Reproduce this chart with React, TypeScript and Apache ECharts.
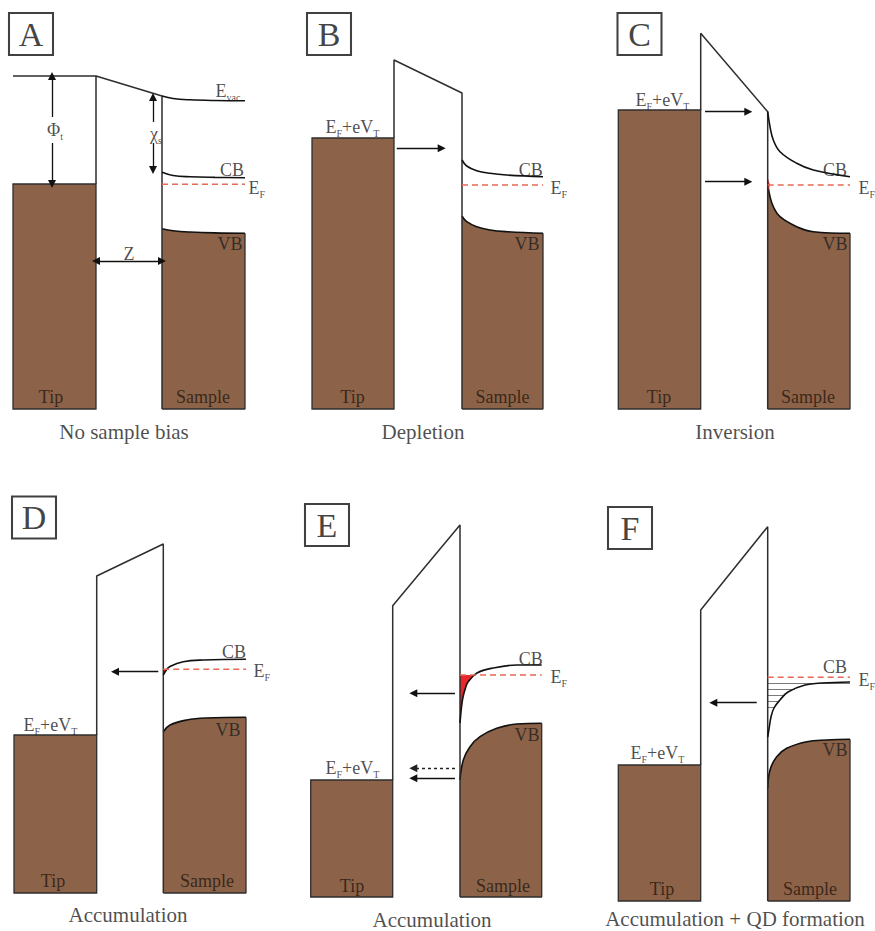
import React, { useEffect, useRef } from "react";
import * as echarts from "echarts";

const FONT = "Liberation Serif, DejaVu Serif, serif";
const BROWN = "#8c6248";
const LINE = "#2e2e2e";
const TXT = "#1e1e1e";
const EF_COLOR = "#e66a55";
const RED = "#e8262b";

// Panel layout (page pixels) and the pixel row of each panel's energy zero (tip/sample base)
const PANEL_X = [0, 290, 580, 0, 290, 580];
const PANEL_Y = [0, 0, 0, 460, 460, 460];
const PANEL_W = [290, 290, 295, 290, 290, 295];
const PANEL_H = [450, 450, 450, 471, 471, 471];
const BASE = [409, 409, 409, 893, 897, 901];

const LETTERS = ["A", "B", "C", "D", "E", "F"];
const CAPTIONS = [
  "No sample bias",
  "Depletion",
  "Inversion",
  "Accumulation",
  "Accumulation",
  "Accumulation + QD formation",
];

// Tip: [left, right, Fermi level (top of filled states)]
const TIP = [
  [13, 96, 225],
  [22, 104, 271],
  [38.3, 120.7, 299],
  [14, 96.7, 158],
  [20.7, 102.7, 117],
  [38.3, 120.7, 136],
];

// Vacuum barrier outline
const BARRIER = [
  [[13, 333], [96, 333], [96, 225], [96, 333], [162, 313], [162, 0]],
  [[104, 271], [104, 349], [172, 316], [172, 0]],
  [[120.7, 299], [120.7, 375.7], [187.7, 297.3], [187.7, 0]],
  [[96.7, 158], [96.7, 317], [163.3, 349], [163.3, 0]],
  [[102.7, 117], [102.7, 291.3], [170, 372], [170, 0]],
  [[120.7, 136], [120.7, 291], [187.7, 374.3], [187.7, 0]],
];

// Sample vacuum level (panel A)
const EVAC_A = [[162, 313], [173, 310.5], [190, 309.2], [215, 308.5], [245, 308.2]];

// Conduction band edge
const CB = [
  [[162, 236.7], [173, 233.5], [190, 232.2], [215, 231.6], [245, 231.3]],
  [[172, 249], [176.7, 243], [186.7, 238.3], [200, 235.7], [216.7, 234], [253, 232.3]],
  [[187.7, 297.3], [190, 282.3], [193.3, 269], [200, 257.3], [216.7, 245.7], [233.3, 239], [270, 232.3]],
  [[163.3, 218], [166, 222.5], [170, 226.5], [183.3, 231.3], [203.3, 233], [246, 233.7]],
  [[170, 174], [171.5, 190], [173, 200], [175.5, 209], [178, 215], [187, 224], [203, 229], [227, 232], [251.7, 232]],
  [[187.7, 164], [189, 172], [191, 184], [194, 193], [200, 201], [208, 209], [225, 216], [242, 218], [270, 219]],
];

// Valence band edge (top of the filled sample)
const VB = [
  [[162, 180.3], [173, 178.3], [190, 177], [215, 176.1], [245, 175.7]],
  [[172, 193], [176.7, 187.3], [186.7, 182.3], [200, 179], [216.7, 177.3], [253, 175.7]],
  [[187.7, 225.7], [190, 212.3], [193.3, 202.3], [200, 192.3], [216.7, 182.3], [233.3, 177.3], [270, 175.7]],
  [[163.3, 161.3], [170, 168], [186.7, 173], [206.7, 175], [246, 175.7]],
  [[170, 117], [173.3, 137], [180, 150.3], [190, 160.3], [206.7, 168.7], [226.7, 173], [251.7, 173.7]],
  [[187.7, 112.7], [190, 131], [196.7, 144.3], [206.7, 152.7], [226.7, 159.3], [246.7, 161], [270, 161.7]],
];

// Sample Fermi level: [x start, x end, level]
const EF = [
  [162, 245, 224.7],
  [172, 253, 224],
  [187.7, 270, 224],
  [163.3, 246, 223.7],
  [170, 251.7, 222],
  [187.7, 270, 223.7],
];

// Occupied (red) regions
const CHARGE = [
  [],
  [],
  [[187.7, 231], [190, 224], [187.7, 217]],
  [[163.3, 223.7], [168.5, 223.7], [166, 222.5], [164.5, 220.5], [163.3, 218]],
  [[170, 222], [184.8, 222], [178, 215], [175.5, 209], [173, 200], [171.5, 190], [170, 180]],
  [],
];

// Quantized levels (panel F)
const QD_LEVELS = [
  [[187.7, 218], [270, 218]],
  [[187.7, 212], [215, 212]],
  [[187.7, 206], [205, 206]],
  [[187.7, 200], [199, 200]],
  [[187.7, 194], [194.5, 194]],
];

// Tunnelling arrows: [from, to, dashed]
const ARROWS = [
  [],
  [[[106.7, 260.7], [151.7, 260.7], 0]],
  [[[125, 297.3], [168.3, 297.3], 0], [[125, 227.3], [168.3, 227.3], 0]],
  [[[158.3, 221.3], [115, 221.3], 0]],
  [[[165, 203.7], [123.3, 203.7], 0], [[165, 128.7], [123.3, 128.7], 1], [[165, 118.7], [123.3, 118.7], 0]],
  [[[176.7, 198.3], [133.3, 198.3], 0]],
];

// Dimension arrows in panel A
const DIM_ARROWS_A = [
  [[52, 292], [52, 333]],
  [[52, 266], [52, 225]],
  [[153, 287], [153, 312]],
  [[153, 266], [153, 239]],
];
const Z_ARROW_A = [[96, 148], [162, 148]];

// Label anchor points per panel
const BOX_POS = [[31, 375], [39, 375], [59.5, 375], [34, 375.5], [37, 372], [50, 373]];
const CAPTION_POS = [[124, -23], [133, -23], [155, -23], [128, -22], [142, -23], [155, -18]];
const TIP_LABEL_POS = [[51, 12], [62.5, 12], [79, 12], [53, 12], [62, 11], [82, 12]];
const SAMPLE_LABEL_POS = [[203, 12], [212.5, 12], [228, 12], [207, 12], [213, 11], [230, 12]];
const CB_LABEL_POS = [[232, 239], [240.7, 239], [255, 239], [234, 241], [240.7, 238], [255, 234]];
const VB_LABEL_POS = [[230, 165], [237, 165], [255, 165], [228, 163], [237, 162], [255, 151]];
const EF_LABEL_POS = [[248, 221], [260, 221], [278, 221], [253, 222], [260, 220], [278, 221]];
const BIAS_LABEL_POS = [null, [35, 282], [55, 309], [23, 168], [35, 129], [50, 148]];

const RICH = {
  n: { fontFamily: FONT, fontSize: 18, lineHeight: 22, color: TXT },
  u: { fontFamily: FONT, fontSize: 10, lineHeight: 10, color: TXT, verticalAlign: "bottom" },
  v: { fontFamily: FONT, fontSize: 10, lineHeight: 10, color: TXT, verticalAlign: "bottom" },
  t: { fontFamily: FONT, fontSize: 18, lineHeight: 22, color: "#24170f" },
  c: { fontFamily: FONT, fontSize: 21, lineHeight: 22, color: TXT },
};

function lab(pos: number[], text: string, position: string) {
  return {
    value: pos,
    label: {
      show: true,
      position,
      distance: 0,
      formatter: () => text,
      rich: RICH,
    },
  };
}

function buildOption() {
  const grid: any[] = [];
  const xAxis: any[] = [];
  const yAxis: any[] = [];
  const series: any[] = [];

  for (let i = 0; i < 6; i++) {
    grid.push({ left: PANEL_X[i], top: PANEL_Y[i], width: PANEL_W[i], height: PANEL_H[i] });
    xAxis.push({ type: "value", gridIndex: i, min: 0, max: PANEL_W[i], show: false });
    yAxis.push({
      type: "value",
      gridIndex: i,
      min: BASE[i] - (PANEL_Y[i] + PANEL_H[i]),
      max: BASE[i] - PANEL_Y[i],
      show: false,
    });
    const ax = { xAxisIndex: i, yAxisIndex: i };

    // Tip block
    series.push({
      type: "custom",
      ...ax,
      z: 1,
      silent: true,
      data: [TIP[i]],
      renderItem: (_p: any, api: any) => {
        const a = api.coord([api.value(0), api.value(2)]);
        const b = api.coord([api.value(1), 0]);
        return {
          type: "rect",
          shape: { x: a[0], y: a[1], width: b[0] - a[0], height: b[1] - a[1] },
          style: { fill: BROWN, stroke: LINE, lineWidth: 1.3 },
        };
      },
    });

    // Sample filled valence band
    const vb = VB[i];
    series.push({
      type: "line",
      ...ax,
      z: 2,
      silent: true,
      data: vb,
      smooth: 0.4,
      symbol: "none",
      lineStyle: { color: "#111", width: 1.6 },
      areaStyle: { color: BROWN, opacity: 1, origin: 0 },
    });

    // Sample outline (right and bottom)
    const wall = vb[0][0];
    const right = vb[vb.length - 1][0];
    series.push({
      type: "line",
      ...ax,
      z: 3,
      silent: true,
      symbol: "none",
      data: [[right, vb[vb.length - 1][1]], [right, 0], [wall, 0]],
      lineStyle: { color: LINE, width: 1.3 },
    });

    // Occupied charge region
    if (CHARGE[i].length) {
      const pts = CHARGE[i];
      series.push({
        type: "custom",
        ...ax,
        z: 3,
        silent: true,
        data: [[0, 0]],
        renderItem: (_p: any, api: any) => ({
          type: "polygon",
          shape: { points: pts.map((p) => api.coord(p)) },
          style: { fill: RED },
        }),
      });
    }

    // Barrier
    series.push({
      type: "line",
      ...ax,
      z: 4,
      silent: true,
      symbol: "none",
      data: BARRIER[i],
      lineStyle: { color: LINE, width: 1.5 },
    });

    // Conduction band
    series.push({
      type: "line",
      ...ax,
      z: 4,
      silent: true,
      symbol: "none",
      smooth: 0.4,
      data: CB[i],
      lineStyle: { color: "#111", width: 1.6 },
    });

    // Sample Fermi level
    series.push({
      type: "line",
      ...ax,
      z: 4,
      silent: true,
      symbol: "none",
      data: [[EF[i][0], EF[i][2]], [EF[i][1], EF[i][2]]],
      lineStyle: { color: EF_COLOR, width: 1.5, type: [6, 4] },
    });

    if (i === 0) {
      series.push({
        type: "line",
        ...ax,
        z: 4,
        silent: true,
        symbol: "none",
        smooth: 0.4,
        data: EVAC_A,
        lineStyle: { color: "#111", width: 1.5 },
      });
      series.push({
        type: "lines",
        coordinateSystem: "cartesian2d",
        ...ax,
        z: 5,
        silent: true,
        symbol: ["none", "triangle"],
        symbolSize: 8,
        lineStyle: { color: "#111", width: 1.3, opacity: 1 },
        data: DIM_ARROWS_A.map((c) => ({ coords: c })),
      });
      series.push({
        type: "lines",
        coordinateSystem: "cartesian2d",
        ...ax,
        z: 5,
        silent: true,
        symbol: ["triangle", "triangle"],
        symbolSize: 8,
        lineStyle: { color: "#111", width: 1.3, opacity: 1 },
        data: [{ coords: Z_ARROW_A }],
      });
    }

    if (i === 5) {
      series.push({
        type: "lines",
        coordinateSystem: "cartesian2d",
        ...ax,
        z: 3,
        silent: true,
        symbol: ["none", "none"],
        lineStyle: { color: "#7a7a7a", width: 1, opacity: 1 },
        data: QD_LEVELS.map((c) => ({ coords: c })),
      });
    }

    if (ARROWS[i].length) {
      series.push({
        type: "lines",
        coordinateSystem: "cartesian2d",
        ...ax,
        z: 5,
        silent: true,
        symbol: ["none", "triangle"],
        symbolSize: 8,
        lineStyle: { color: "#111", width: 1.4, opacity: 1 },
        data: ARROWS[i].map((a: any) => ({
          coords: [a[0], a[1]],
          lineStyle: a[2] ? { type: [3, 3], color: "#222" } : undefined,
        })),
      });
    }

    // Panel letter box
    series.push({
      type: "scatter",
      ...ax,
      z: 6,
      silent: true,
      symbol: "rect",
      symbolSize: [44, 42],
      itemStyle: { color: "#fff", borderColor: "#111", borderWidth: 2 },
      label: {
        show: true,
        position: "inside",
        formatter: () => LETTERS[i],
        fontFamily: FONT,
        fontSize: 34,
        color: "#111",
      },
      data: [BOX_POS[i]],
    });

    // Text labels
    const labels: any[] = [
      lab(CAPTION_POS[i], `{c|${CAPTIONS[i]}}`, "inside"),
      lab(TIP_LABEL_POS[i], "{t|Tip}", "inside"),
      lab(SAMPLE_LABEL_POS[i], "{t|Sample}", "inside"),
      lab(CB_LABEL_POS[i], "{n|CB}", "inside"),
      lab(VB_LABEL_POS[i], "{n|VB}", "inside"),
      lab(EF_LABEL_POS[i], "{n|E}{u|F}", "right"),
    ];
    const bias = BIAS_LABEL_POS[i];
    if (bias) labels.push(lab(bias, "{n|E}{u|F}{n|+eV}{u|T}", "right"));
    if (i === 0) {
      labels.push(lab([215, 318], "{n|E}{v|vac}", "right"));
      labels.push(lab([55, 279], "{n|Φ}{u|t}", "inside"));
      labels.push(lab([156, 275], "{n|χ}{u|s}", "inside"));
      labels.push(lab([129, 155], "{n|Z}", "inside"));
    }
    series.push({
      type: "scatter",
      ...ax,
      z: 7,
      silent: true,
      clip: false,
      symbolSize: 1,
      itemStyle: { color: "rgba(0,0,0,0)" },
      data: labels,
    });
  }

  return {
    animation: false,
    backgroundColor: "#ffffff",
    textStyle: { fontFamily: FONT },
    grid,
    xAxis,
    yAxis,
    series,
  };
}

export default function App() {
  const ref = useRef<HTMLDivElement>(null);
  useEffect(() => {
    const chart = echarts.init(ref.current as HTMLDivElement, null, { renderer: "svg" });
    chart.setOption(buildOption() as any);
    return () => chart.dispose();
  }, []);
  return (
    <div
      ref={ref}
      style={{ position: "fixed", left: 0, top: 0, width: 875, height: 931, background: "#fff" }}
    />
  );
}
